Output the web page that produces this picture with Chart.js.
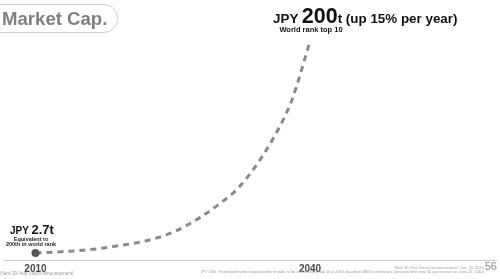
<!DOCTYPE html>
<html>
<head>
<meta charset="utf-8">
<script src="https://cdn.jsdelivr.net/npm/chart.js@4"></script>
<style>
  html, body { margin: 0; padding: 0; background: #fff; }
  body { width: 500px; height: 279px; overflow: hidden; position: relative; font-family: "Liberation Sans", Arial, sans-serif; }
  #chart { position: absolute; left: 0; top: 0; }
  .t { position: absolute; white-space: nowrap; }
  .title-box { position: absolute; left: -14px; top: 4px; width: 130px; height: 27px; border: 1px solid #cfcfcf; border-radius: 14px; }
  .title { left: 2px; top: 9.5px; font-size: 18.6px; line-height: 18px; font-weight: bold; color: #7f7f7f; }
  .big { left: 273px; top: 4.5px; font-size: 13.4px; line-height: 22px; font-weight: bold; color: #111; }
  .big .num { font-size: 21.5px; }
  .rank { left: 261px; width: 100px; text-align: center; top: 25.5px; font-size: 7.5px; line-height: 7.5px; font-weight: bold; color: #111; }
  .start { left: 10px; top: 222.5px; font-size: 10px; line-height: 14px; font-weight: bold; color: #111; }
  .start .num { font-size: 13px; }
  .equiv { left: 0; width: 62px; text-align: center; top: 237px; font-size: 5.5px; line-height: 5px; font-weight: bold; color: #222; }
  .note { font-size: 4.5px; line-height: 5px; color: #9a9a9a; }
  .n1 { left: 0; width: 70px; text-align: center; top: 271px; }
  .n2 { right: 16px; top: 265px; font-size: 4px; }
  .n3 { right: 16px; top: 269.5px; font-size: 3.8px; }
  .page { right: 3px; top: 261px; font-size: 11px; line-height: 11px; color: #8c8c8c; }
</style>
</head>
<body>
<canvas id="chart" width="500" height="279"></canvas>

<div class="title-box"></div>
<div class="t title">Market Cap.</div>
<div class="t big">JPY <span class="num">200</span>t (up 15% per year)</div>
<div class="t rank">World rank top 10</div>
<div class="t start">JPY <span class="num">2.7t</span></div>
<div class="t equiv">Equivalent to<br>200th in world rank</div>
<div class="t note n1">(Next 30-Year Vision announcement)</div>
<div class="t note n2">Next 30-Year Vision announcement: Jun. 25, 2010</div>
<div class="t note n3">JPY 200t : Estimated market capitalization in order to be ranked within top 10 in 2040, based on SBG's estimation. (announced in next 30 years vision on June 25, 2010)</div>
<div class="t page">56</div>

<script>
// market cap path, trillion yen
const years = [2010, 2013, 2016, 2019, 2022, 2025, 2028, 2030, 2032, 2034, 2036, 2038, 2040];
const marketCap = [2.7, 4.1, 6, 9.5, 14, 22, 36, 48, 62, 83, 110, 145, 200];
const tickYears = [2010, 2040];

const ctx = document.getElementById('chart').getContext('2d');
new Chart(ctx, {
    type: 'line',
    data: {
        datasets: [{
            data: years.map((y, i) => ({ x: y, y: marketCap[i] })),
            borderColor: '#8a8a8a',
            borderWidth: 3,
            borderDash: [6, 5],
            borderCapStyle: 'butt',
            cubicInterpolationMode: 'monotone',
            pointRadius: c => c.dataIndex === 0 ? 4 : 0,
            pointBackgroundColor: '#555',
            pointBorderWidth: 0,
            clip: false
        }]
    },
    options: {
        responsive: false,
        animation: false,
        layout: { padding: 0 },
        plugins: { legend: { display: false }, tooltip: { enabled: false } },
        scales: {
            x: {
                type: 'linear',
                min: 2006.56,
                max: 2060.32,
                afterBuildTicks: s => { s.ticks = tickYears.map(v => ({ value: v })); },
                afterFit: s => { s.height = 19; },
                grid: { display: false, drawTicks: false },
                border: { display: true, color: '#c9c9c9', width: 1 },
                ticks: {
                    padding: 3,
                    maxRotation: 0,
                    autoSkip: false,
                    color: '#4a4a4a',
                    font: { family: 'Liberation Sans', size: 10, weight: 'bold' },
                    callback: v => String(v)
                }
            },
            y: {
                display: false,
                min: -3.72,
                max: 234.87
            }
        }
    }
});
</script>
</body>
</html>
